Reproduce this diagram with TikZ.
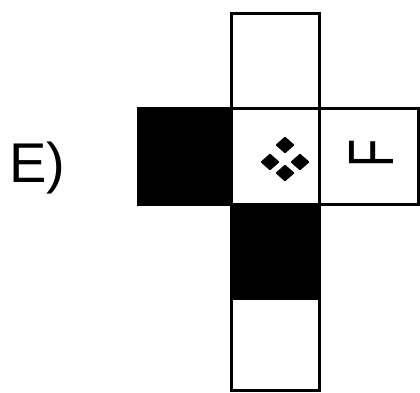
\documentclass[tikz,border=0pt]{standalone}
\usepackage{fontspec}
\setmainfont{Liberation Sans}
\usetikzlibrary{shapes,shapes.geometric,calc,positioning}
\tikzset{
    cell/.style ={rectangle, draw, line width=3pt, outer sep=0pt, inner sep=0pt},
    shaded/.style ={cell, fill=black},
    dot/.style ={diamond, fill=black, draw=black, line width=2pt, line join=round, inner sep=0pt, minimum width=17pt, minimum height=15pt},
    lbl/.style = {inner sep=0pt, font=\fontsize{56}{60}\selectfont}
}
\begin{document}
\begin{tikzpicture}[x=1pt, y=1pt]

  \useasboundingbox (0,0) rectangle (420,392);

  \node[cell, minimum width=88pt, minimum height=96pt]   (centre) at (275,236) {};
  \node[cell, minimum width=88pt, minimum height=94pt, above=0pt of centre] (top) {};
  \node[shaded, minimum width=93pt, minimum height=96pt, left=0pt of centre] (west) {};
  \node[cell, minimum width=99pt, minimum height=96pt, right=0pt of centre] (east) {};
  \node[shaded, minimum width=88pt, minimum height=94pt, below=0pt of centre] (under) {};
  \node[cell, minimum width=88pt, minimum height=92pt, below=0pt of under] (bottom) {};

  % symbol in the middle cell
  \coordinate (sym) at ($(centre)+(10,-4)$);
  \node[dot] (dotn) at ($(sym)+(0,15)$) {};
  \node[dot] (dots) at ($(sym)+(0,-13)$) {};
  \node[dot] (dotw) at ($(sym)+(-15,-2)$) {};
  \node[dot] (dote) at ($(sym)+(15,-2)$) {};

  \node[rotate=90, inner sep=0pt, font=\fontsize{64}{70}\selectfont] (letter) at ($(east)+(3,3)$) {\scalebox{0.72}[1]{F}};

  \node[lbl, anchor=base west] (tag) at (9,210) {E)};
\end{tikzpicture}
\end{document}
